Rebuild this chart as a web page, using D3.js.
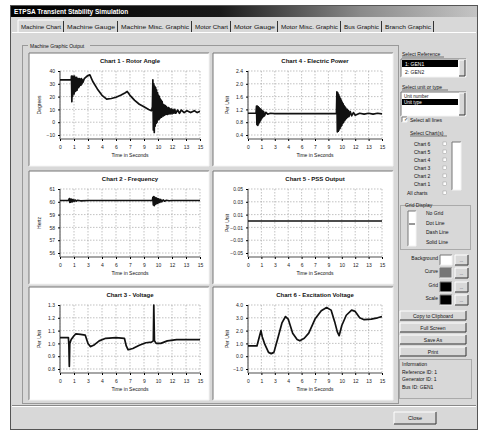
<!DOCTYPE html>
<html><head><meta charset="utf-8">
<script src="https://cdn.jsdelivr.net/npm/d3@7"></script>
<style>body{margin:0;background:#fff}svg{display:block;font-family:"Liberation Sans",Arial,sans-serif}</style>
</head><body><svg id="c" width="480" height="432"></svg>
<script>
// ---------------- DATA ----------------
const xTickValues = [0,1.5,3,4.5,6,7.5,9,10.5,12,13.5,15];
const xTickLabels = ["0","1","3","4","6","7","9","10","12","13","15"];
const chartTitles = ["Chart 1 - Rotor Angle","Chart 2 - Frequency","Chart 3 - Voltage","Chart 4 - Electric Power","Chart 5 - PSS Output","Chart 6 - Excitation Voltage"];
const yTitles = ["Degrees","Hertz","Per Unit","Per Unit","Per Unit","Per Unit"];
const rotorTicks = [40,30,20,10,0,-10];
const freqTicks = [61,60,59,58,57,56];
const voltTicks = [1.3,1.2,1.1,1.0,0.9,0.8];
const powerTicks = [2.4,2.0,1.6,1.2,0.8,0.4];
const pssTicks = [0.05,0.03,0.01,-0.01,-0.03,-0.05];
const excTicks = [4.0,3.0,2.0,1.0,0.0,-1.0];
const yTickFormats = ["d","d",".1f",".1f",".2f",".1f"];

const rotorAngle = [[0,33],[1.2,33],[1.23,36],[1.27,16],[1.31,35],[1.35,20],[1.39,36],[1.43,23],[1.47,35],[1.51,22],[1.55,36],[1.59,25],[1.63,35],[1.67,24],[1.71,34],[1.75,26],[1.79,35],[1.83,25],[1.87,33],[1.91,27],[1.95,34],[1.99,27],[2.03,33],[2.07,28],[2.11,34],[2.15,29],[2.2,33],[2.25,29],[2.3,34],[2.35,30],[2.4,33],[2.45,31],[2.6,34],[2.9,36],[3.2,37],[3.5,32],[4,26],[4.5,21],[5,18],[5.5,18.5],[6,19.5],[6.5,21],[7,23],[7.2,24],[7.5,21],[8,17],[8.5,14],[9,12],[9.5,10],[9.8,9],[9.9,12],[9.95,33],[10.0,-6],[10.05,30],[10.1,-8],[10.15,28],[10.2,-3],[10.25,27],[10.3,-1],[10.35,25],[10.4,0],[10.45,23],[10.5,2],[10.55,21],[10.6,2],[10.65,20],[10.7,3],[10.75,18],[10.8,4],[10.85,17],[10.9,4],[10.95,16],[11.0,5],[11.05,14],[11.1,5],[11.15,13.5],[11.2,5.5],[11.3,13],[11.35,6],[11.4,12],[11.5,6],[11.6,11.5],[11.65,6.5],[11.7,11],[11.8,6.5],[11.9,10.5],[12.0,6.5],[12.1,10],[12.2,7],[12.3,10],[12.4,7],[12.6,9.5],[12.8,7],[13,9.5],[13.3,7.5],[13.6,9],[14,7.5],[14.4,9],[14.7,7.5],[15,8.5]];
const frequency = [[0,60.1],[0.9,60.1],[1.0,60.25],[1.05,59.95],[1.1,60.22],[1.15,59.98],[1.25,60.2],[1.3,60.0],[1.4,60.17],[1.5,60.03],[1.6,60.14],[1.75,60.06],[1.9,60.12],[2.2,60.08],[3,60.1],[9.9,60.1],[9.95,60.35],[10.0,59.75],[10.05,60.4],[10.1,59.7],[10.15,60.35],[10.2,59.8],[10.3,60.3],[10.35,59.85],[10.45,60.25],[10.5,59.9],[10.6,60.22],[10.7,59.95],[10.8,60.18],[10.9,60.0],[11.05,60.15],[11.2,60.05],[11.4,60.12],[11.7,60.08],[12,60.1],[15,60.1]];
const voltage = [[0,1.045],[0.9,1.045],[0.95,0.99],[1.0,0.82],[1.05,1.0],[1.2,1.03],[1.5,1.06],[1.7,1.075],[2.2,1.07],[2.7,1.065],[3.0,1.0],[3.25,0.975],[3.6,0.985],[4.2,1.02],[4.9,1.04],[6,1.045],[6.9,1.04],[7.1,0.98],[7.3,0.95],[7.8,0.96],[8.5,0.985],[9.2,1.005],[9.8,1.01],[10.0,1.02],[10.05,1.3],[10.12,1.02],[10.3,1.0],[10.8,1.0],[11.5,1.02],[12.5,1.03],[15,1.03]];
const electricPower = [[0,1.08],[0.9,1.08],[0.95,1.3],[1.0,0.72],[1.05,1.3],[1.1,0.7],[1.15,1.28],[1.2,0.75],[1.25,1.25],[1.3,0.8],[1.35,1.22],[1.4,0.85],[1.45,1.2],[1.5,0.9],[1.55,1.17],[1.6,0.94],[1.65,1.15],[1.7,0.97],[1.75,1.13],[1.85,1.0],[2.0,1.11],[2.2,1.05],[2.5,1.08],[3,1.07],[9.9,1.07],[9.95,1.75],[10.0,0.5],[10.05,1.72],[10.1,0.52],[10.15,1.66],[10.2,0.56],[10.25,1.6],[10.3,0.6],[10.35,1.54],[10.4,0.66],[10.45,1.48],[10.5,0.7],[10.55,1.42],[10.6,0.76],[10.65,1.37],[10.7,0.8],[10.75,1.32],[10.8,0.85],[10.85,1.28],[10.9,0.88],[10.95,1.24],[11.0,0.92],[11.1,1.2],[11.15,0.95],[11.25,1.16],[11.3,0.98],[11.45,1.13],[11.6,1.0],[11.8,1.1],[12.0,1.02],[12.5,1.08],[13,1.05],[13.5,1.08],[14,1.05],[14.5,1.08],[15,1.06]];
const pssOutput = [[0,0.0],[15,0.0]];
const excitationVoltage = [[0,0.8],[1.0,0.8],[1.3,1.6],[1.45,2.0],[1.6,1.5],[1.9,0.9],[2.3,0.3],[2.6,0.2],[2.9,0.3],[3.3,1.3],[3.8,2.6],[4.2,3.1],[4.5,2.9],[5.0,1.8],[5.5,1.3],[5.8,1.2],[6.3,1.4],[6.8,1.8],[7.5,2.9],[8.2,3.55],[8.8,3.8],[9.3,3.6],[9.7,2.7],[10.0,1.9],[10.2,1.6],[10.5,2.4],[11.0,3.2],[11.6,3.6],[12.0,3.5],[12.5,3.0],[13.0,2.85],[13.8,2.9],[14.5,3.0],[15,3.1]];

const seriesList = [rotorAngle,frequency,voltage,electricPower,pssOutput,excitationVoltage];
const tickList = [rotorTicks,freqTicks,voltTicks,powerTicks,pssTicks,excTicks];

const tabNames = ["Machine Chart","Machine Gauge","Machine Misc. Graphic","Motor Chart","Motor Gauge","Motor Misc. Graphic","Bus Graphic","Branch Graphic"];
const chartListNames = ["Chart 6","Chart 5","Chart 4","Chart 3","Chart 2","Chart 1"];
const gridOptions = ["No Grid","Dot Line","Dash Line","Solid Line"];
const colorRows = ["Background","Curve","Grid","Scale"];
const colorSwatches = ["#ffffff","#777777","#000000","#000000"];
const buttonNames = ["Copy to Clipboard","Full Screen","Save As","Print"];
const infoLines = ["Information","Reference ID: 1","Generator ID: 1","Bus ID: GEN1"];

// ---------------- DRAW ----------------
const svg = d3.select("#c");
const FACE = "#d8d8d8";
function txt(g,x,y,s,size,opts={}){
  const t=g.append("text").attr("x",x).attr("y",y).text(s).attr("font-size",size).attr("fill",opts.fill||"#111");
  if(opts.anchor) t.attr("text-anchor",opts.anchor);
  if(opts.bold) t.attr("font-weight","bold");
  return t;
}
function raised(g,x,y,w,h,fill){
  g.append("rect").attr("x",x).attr("y",y).attr("width",w).attr("height",h).attr("fill",fill||FACE);
  g.append("path").attr("d",`M${x},${y+h}V${y}H${x+w}`).attr("stroke","#fff").attr("fill","none");
  g.append("path").attr("d",`M${x},${y+h}H${x+w}V${y}`).attr("stroke","#333").attr("fill","none");
}
function sunken(g,x,y,w,h,fill){
  g.append("rect").attr("x",x).attr("y",y).attr("width",w).attr("height",h).attr("fill",fill||"#fff");
  g.append("path").attr("d",`M${x},${y+h}V${y}H${x+w}`).attr("stroke","#777").attr("fill","none");
  g.append("path").attr("d",`M${x},${y+h}H${x+w}V${y}`).attr("stroke","#f4f4f4").attr("fill","none");
}

// window
svg.append("rect").attr("x",10).attr("y",5).attr("width",468).attr("height",425).attr("fill",FACE);
svg.append("rect").attr("x",10.5).attr("y",5.5).attr("width",467).attr("height",424).attr("fill","none").attr("stroke","#555");
const grad = svg.append("defs").append("linearGradient").attr("id","tb");
grad.append("stop").attr("offset","0%").attr("stop-color","#000");
grad.append("stop").attr("offset","45%").attr("stop-color","#1a1a1a");
grad.append("stop").attr("offset","75%").attr("stop-color","#8a8a8a");
grad.append("stop").attr("offset","100%").attr("stop-color","#c4c4c4");
svg.append("rect").attr("x",11).attr("y",6).attr("width",466).attr("height",11).attr("fill","url(#tb)");
txt(svg,14,14,"ETPSA Transient Stability Simulation",6.5,{fill:"#fff",bold:true});

// tabs
const tabX=[18,64,118,192,231,278,341,382,434];
const tg=svg.append("g");
tg.append("line").attr("x1",12).attr("x2",476).attr("y1",32.5).attr("y2",32.5).attr("stroke","#fff");
tabNames.forEach((n,i)=>{
  const x0=tabX[i], x1=tabX[i+1];
  if(i===0){ tg.append("path").attr("d",`M${x0},33V20H${x1-1}`).attr("stroke","#fff").attr("fill","none"); }
  tg.append("line").attr("x1",x1-0.5).attr("x2",x1-0.5).attr("y1",21).attr("y2",32).attr("stroke","#333");
  txt(tg,(x0+x1)/2,29,n,5,{anchor:"middle"}).attr("textLength",x1-x0-6).attr("lengthAdjust","spacingAndGlyphs");
});

// group box
svg.append("rect").attr("x",22.5).attr("y",45.5).attr("width",376).attr("height",358).attr("fill","none").attr("stroke","#999");
svg.append("rect").attr("x",28).attr("y",42).attr("width",62).attr("height",7).attr("fill",FACE);
txt(svg,30,48,"Machine Graphic Output",5);

// charts
const panels=[[29,53],[29,171],[29,287],[213,53],[213,171],[213,287]];
const PW=180, PH=113;
panels.forEach(([px,py],i)=>{
  const g=svg.append("g").attr("transform",`translate(${px},${py})`);
  sunken(g,0,0,PW,PH,"#fff");
  const L=i<3?31:35, R=i<3?171:169, T=18, B=86;
  const ticks=tickList[i];
  const lastLabelY=T+64;
  const y=d3.scaleLinear().domain([ticks[ticks.length-1],ticks[0]]).range([lastLabelY,T]);
  const x=d3.scaleLinear().domain([0,15]).range([L,R]);
  txt(g,(L+R)/2,10,chartTitles[i],6,{anchor:"middle",bold:true});
  // grid
  g.append("g").selectAll("line.v").data(xTickValues).join("line")
    .attr("x1",d=>x(d)).attr("x2",d=>x(d)).attr("y1",T).attr("y2",B)
    .attr("stroke","#999").attr("stroke-width",0.6).attr("stroke-dasharray","1.5,1.5");
  g.append("g").selectAll("line.h").data(ticks).join("line")
    .attr("x1",L).attr("x2",R).attr("y1",d=>y(d)).attr("y2",d=>y(d))
    .attr("stroke","#999").attr("stroke-width",0.6).attr("stroke-dasharray","1.5,1.5");
  // axes
  const ya=d3.axisLeft(y).tickValues(ticks).tickSize(2).tickFormat(d3.format(yTickFormats[i]));
  const yg=g.append("g").attr("transform",`translate(${L},0)`).call(ya);
  yg.select(".domain").attr("d",`M0,${T}V${B}`).attr("stroke","#888").attr("stroke-width",1.6);
  yg.selectAll("text").attr("font-size",5).attr("fill","#222").attr("font-family","Liberation Sans");
  const xa=d3.axisBottom(x).tickValues(xTickValues).tickSize(2).tickFormat((d,k)=>xTickLabels[k]);
  const xg=g.append("g").attr("transform",`translate(0,${B})`).call(xa);
  xg.select(".domain").attr("d",`M${L},0H${R}`).attr("stroke","#888").attr("stroke-width",1.4);
  xg.selectAll("text").attr("font-size",5).attr("fill","#222").attr("dy","0.9em").attr("font-family","Liberation Sans");
  txt(g,(L+R)/2,104,"Time in Seconds",5,{anchor:"middle"});
  txt(g,0,0,yTitles[i],5,{anchor:"middle"}).attr("transform",`translate(${L-19},${(T+B)/2}) rotate(-90)`);
  // clip & line
  const cid="clip"+i;
  g.append("clipPath").attr("id",cid).append("rect").attr("x",L).attr("y",T-2).attr("width",R-L).attr("height",B-T+2);
  const line=d3.line().x(d=>x(d[0])).y(d=>y(d[1]));
  g.append("path").datum(seriesList[i]).attr("d",line).attr("clip-path",`url(#${cid})`)
    .attr("fill","none").attr("stroke","#111").attr("stroke-width",1.7).attr("stroke-linejoin","round");
});

// right panel
const rp=svg.append("g");
txt(rp,402,56,"Select Reference",5);
rp.append("line").attr("x1",402).attr("x2",444).attr("y1",57).attr("y2",57).attr("stroke","#111").attr("stroke-width",0.5);
sunken(rp,401,59,65,18,"#fff");
rp.append("rect").attr("x",402).attr("y",60).attr("width",56).attr("height",7).attr("fill","#000");
txt(rp,405,66,"1: GEN1",5,{fill:"#fff"});
txt(rp,405,74,"2: GEN2",5);
raised(rp,459,60,6,16);
txt(rp,402,89,"Select unit or type",5);
rp.append("line").attr("x1",402).attr("x2",448).attr("y1",90).attr("y2",90).attr("stroke","#111").attr("stroke-width",0.5);
sunken(rp,401,92,65,24,"#fff");
txt(rp,404,98,"Unit number",4.5);
rp.append("rect").attr("x",402).attr("y",99).attr("width",56).attr("height",6).attr("fill","#000");
txt(rp,404,104,"Unit type",4.5,{fill:"#fff"});
raised(rp,459,93,6,22);
sunken(rp,402,117,5,5,"#fff");
txt(rp,404,121,"✓",4.5);
txt(rp,410,122,"Select all lines",5);
txt(rp,410,135,"Select Chart(s)",5);
rp.append("line").attr("x1",410).attr("x2",447).attr("y1",136).attr("y2",136).attr("stroke","#111").attr("stroke-width",0.5);
chartListNames.forEach((n,k)=>{
  txt(rp,414,146+k*8,n,5);
  rp.append("rect").attr("x",443).attr("y",142+k*8).attr("width",3.5).attr("height",3.5).attr("fill","#fff").attr("stroke","#888").attr("stroke-width",0.4);
});
txt(rp,407,195,"All charts",5);
rp.append("rect").attr("x",443).attr("y",191).attr("width",3.5).attr("height",3.5).attr("fill","#fff").attr("stroke","#888").attr("stroke-width",0.4);
sunken(rp,452,142,9,48,"#fff");
rp.append("rect").attr("x",400.5).attr("y",205.5).attr("width",70).attr("height",44).attr("fill","none").attr("stroke","#aaa");
txt(rp,405,207,"Grid Display",5);
sunken(rp,408,211,8,35,"#fff");
rp.append("line").attr("x1",409).attr("x2",415).attr("y1",224).attr("y2",224).attr("stroke","#333");
gridOptions.forEach((n,k)=>{ txt(rp,426,215+k*9.5,n,5); });
colorRows.forEach((n,k)=>{
  const yy=[255,268,282,295][k];
  txt(rp,438,yy+5,n,5,{anchor:"end"});
  sunken(rp,440,yy,12,10,colorSwatches[k]);
  raised(rp,455,yy,13,10);
  txt(rp,461.5,yy+7,"...",4,{anchor:"middle"});
});
buttonNames.forEach((n,k)=>{
  const yy=311+k*12;
  raised(rp,400,yy,66,9);
  txt(rp,433,yy+6.5,n,5,{anchor:"middle"});
});
infoLines.forEach((n,k)=>{ txt(rp,402,366+k*7.5,n,5); });
rp.append("rect").attr("x",399.5).attr("y",359.5).attr("width",72).attr("height",39).attr("fill","none").attr("stroke","#aaa");

// bottom bar
svg.append("line").attr("x1",12).attr("x2",476).attr("y1",405.5).attr("y2",405.5).attr("stroke","#888");
svg.append("line").attr("x1",12).attr("x2",476).attr("y1",406.5).attr("y2",406.5).attr("stroke","#fff");
raised(svg,394,412,42,12);
txt(svg,415,420,"Close",5.5,{anchor:"middle"});
</script></body></html>
